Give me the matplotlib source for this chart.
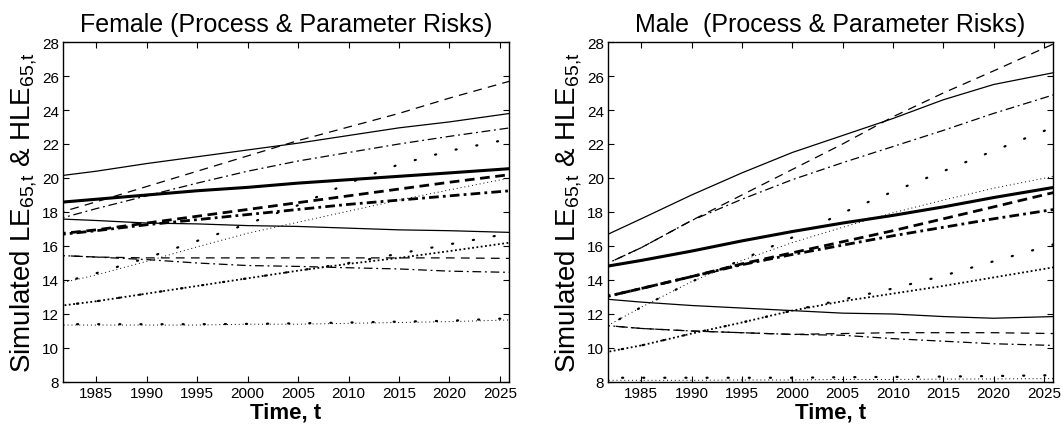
import matplotlib
matplotlib.use("Agg")
import matplotlib.pyplot as plt

plt.rcParams['font.family'] = ['Liberation Sans', 'DejaVu Sans']
plt.rcParams['mathtext.fontset'] = 'custom'
plt.rcParams['mathtext.rm'] = 'Liberation Sans'
plt.rcParams['mathtext.it'] = 'Liberation Sans'

years = [1981, 1985, 1990, 1995, 2000, 2005, 2010, 2015, 2020, 2026]

# ---------------- Female ----------------
f_le_mean   = [18.55, 18.75, 19.0, 19.25, 19.45, 19.7, 19.9, 20.1, 20.3, 20.55]
f_solid_up  = [20.1, 20.4, 20.85, 21.25, 21.65, 22.05, 22.5, 22.95, 23.3, 23.8]
f_solid_lo  = [17.6, 17.5, 17.35, 17.3, 17.2, 17.15, 17.05, 16.95, 16.9, 16.8]
f_dash_up   = [17.9, 18.6, 19.5, 20.4, 21.3, 22.2, 23.0, 23.8, 24.7, 25.7]
f_dash_lo   = [15.45, 15.35, 15.3, 15.3, 15.3, 15.3, 15.3, 15.3, 15.3, 15.27]
f_dd_up     = [17.55, 18.2, 18.95, 19.7, 20.4, 21.0, 21.5, 22.0, 22.45, 22.95]
f_dd_lo     = [15.45, 15.35, 15.2, 15.0, 14.85, 14.8, 14.72, 14.65, 14.52, 14.45]
f_hle_dash  = [16.7, 16.95, 17.35, 17.75, 18.15, 18.55, 18.95, 19.35, 19.75, 20.2]
f_hle_dd    = [16.65, 16.9, 17.25, 17.55, 17.85, 18.15, 18.45, 18.7, 18.95, 19.25]
f_bigdot_up = [13.75, 14.4, 15.3, 16.3, 17.3, 18.4, 19.7, 20.8, 21.6, 22.3]
f_smdot_up  = [13.75, 14.3, 15.1, 15.95, 16.75, 17.4, 18.05, 18.7, 19.3, 20.0]
f_bigdot_md = [12.45, 12.75, 13.2, 13.65, 14.1, 14.55, 15.0, 15.55, 16.1, 16.75]
f_dense_md  = [12.45, 12.75, 13.2, 13.65, 14.1, 14.55, 14.95, 15.3, 15.7, 16.2]
f_bigdot_lo = [11.4, 11.4, 11.4, 11.4, 11.42, 11.45, 11.5, 11.55, 11.6, 11.75]
f_smdot_lo  = [11.35, 11.35, 11.35, 11.35, 11.4, 11.4, 11.45, 11.5, 11.55, 11.65]

# ---------------- Male ----------------
m_le_mean   = [14.75, 15.15, 15.7, 16.3, 16.85, 17.35, 17.8, 18.3, 18.85, 19.45]
m_solid_up  = [16.5, 17.6, 19.0, 20.3, 21.5, 22.5, 23.5, 24.6, 25.5, 26.2]
m_solid_lo  = [12.9, 12.7, 12.5, 12.35, 12.2, 12.05, 12.0, 11.85, 11.75, 11.85]
m_dash_up   = [14.8, 15.9, 17.5, 19.0, 20.5, 22.0, 23.6, 25.0, 26.3, 27.9]
m_dash_lo   = [11.35, 11.15, 11.0, 10.9, 10.8, 10.85, 10.9, 10.9, 10.9, 10.85]
m_dd_up     = [14.8, 15.9, 17.5, 18.75, 19.9, 20.9, 21.85, 22.8, 23.8, 24.9]
m_dd_lo     = [11.35, 11.15, 11.0, 10.9, 10.8, 10.75, 10.55, 10.4, 10.25, 10.15]
m_hle_dash  = [12.95, 13.5, 14.2, 14.95, 15.6, 16.25, 16.9, 17.6, 18.3, 19.15]
m_hle_dd    = [12.95, 13.5, 14.2, 14.9, 15.5, 16.05, 16.6, 17.1, 17.6, 18.15]
m_bigdot_up = [11.1, 12.4, 13.9, 15.2, 16.5, 17.95, 19.2, 20.4, 21.6, 23.0]
m_smdot_up  = [11.1, 12.4, 13.9, 15.15, 16.2, 17.1, 17.95, 18.7, 19.4, 20.1]
m_bigdot_md = [9.7, 10.15, 10.85, 11.5, 12.2, 12.85, 13.5, 14.25, 15.1, 16.1]
m_dense_md  = [9.7, 10.15, 10.85, 11.5, 12.2, 12.75, 13.2, 13.65, 14.15, 14.75]
m_bigdot_lo = [8.25, 8.25, 8.25, 8.25, 8.25, 8.28, 8.3, 8.32, 8.35, 8.4]
m_smdot_lo  = [8.1, 8.1, 8.1, 8.12, 8.12, 8.15, 8.15, 8.17, 8.18, 8.2]

titles = ["Female (Process & Parameter Risks)", "Male  (Process & Parameter Risks)"]
xticks = [1985, 1990, 1995, 2000, 2005, 2010, 2015, 2020, 2025]
yticks = [8, 10, 12, 14, 16, 18, 20, 22, 24, 26, 28]

styles = {
    'le_mean':   dict(ls='-', lw=2.2),
    'solid':     dict(ls='-', lw=0.9),
    'dash':      dict(ls=(0, (7, 5)), lw=0.9),
    'dd':        dict(ls=(0, (7, 3, 1.5, 3)), lw=0.9),
    'hle_dash':  dict(ls=(0, (3.5, 2)), lw=2.0),
    'hle_dd':    dict(ls=(0, (3.5, 1.5, 1, 1.5)), lw=2.0),
    'bigdot':    dict(ls=(0, (0.5, 9)), lw=1.6, dash_capstyle='round'),
    'smdot':     dict(ls=(0, (1, 3)), lw=0.7),
    'dense':     dict(ls=(0, (1, 1.4)), lw=1.3),
}

female = [(f_solid_up, 'solid'), (f_solid_lo, 'solid'), (f_dash_up, 'dash'), (f_dash_lo, 'dash'),
          (f_dd_up, 'dd'), (f_dd_lo, 'dd'), (f_hle_dash, 'hle_dash'), (f_hle_dd, 'hle_dd'),
          (f_bigdot_up, 'bigdot'), (f_smdot_up, 'smdot'), (f_bigdot_md, 'bigdot'),
          (f_dense_md, 'dense'), (f_bigdot_lo, 'bigdot'), (f_smdot_lo, 'smdot'),
          (f_le_mean, 'le_mean')]
male = [(m_solid_up, 'solid'), (m_solid_lo, 'solid'), (m_dash_up, 'dash'), (m_dash_lo, 'dash'),
        (m_dd_up, 'dd'), (m_dd_lo, 'dd'), (m_hle_dash, 'hle_dash'), (m_hle_dd, 'hle_dd'),
        (m_bigdot_up, 'bigdot'), (m_smdot_up, 'smdot'), (m_bigdot_md, 'bigdot'),
        (m_dense_md, 'dense'), (m_bigdot_lo, 'bigdot'), (m_smdot_lo, 'smdot'),
        (m_le_mean, 'le_mean')]

W, H = 1063, 427
fig = plt.figure(figsize=(W / 100, H / 100), dpi=100)
boxes = [(63, 43, 509, 383), (608, 43, 1053, 383)]

for (x0, y0, x1, y1), title, series in zip(boxes, titles, [female, male]):
    ax = fig.add_axes([x0 / W, 1 - y1 / H, (x1 - x0) / W, (y1 - y0) / H])
    for vals, key in series:
        ax.plot(years, vals, color='black', **styles[key])
    ax.set_xlim(1981.7, 2025.9)
    ax.set_ylim(8, 28)
    ax.set_xticks(xticks)
    ax.set_yticks(yticks)
    ax.tick_params(direction='in', top=True, right=True, length=4, width=0.8,
                   labelsize=11, pad=3)
    for sp in ax.spines.values():
        sp.set_linewidth(1.0)
    ax.set_title(title, fontsize=18, pad=8)
    ax.set_xlabel('Time, t', fontsize=16, fontweight='bold', labelpad=1)
    ax.set_ylabel(r'Simulated LE$_{65{,}t}$ & HLE$_{65{,}t}$', fontsize=20, labelpad=2)

fig.savefig('out.png', dpi=100)
